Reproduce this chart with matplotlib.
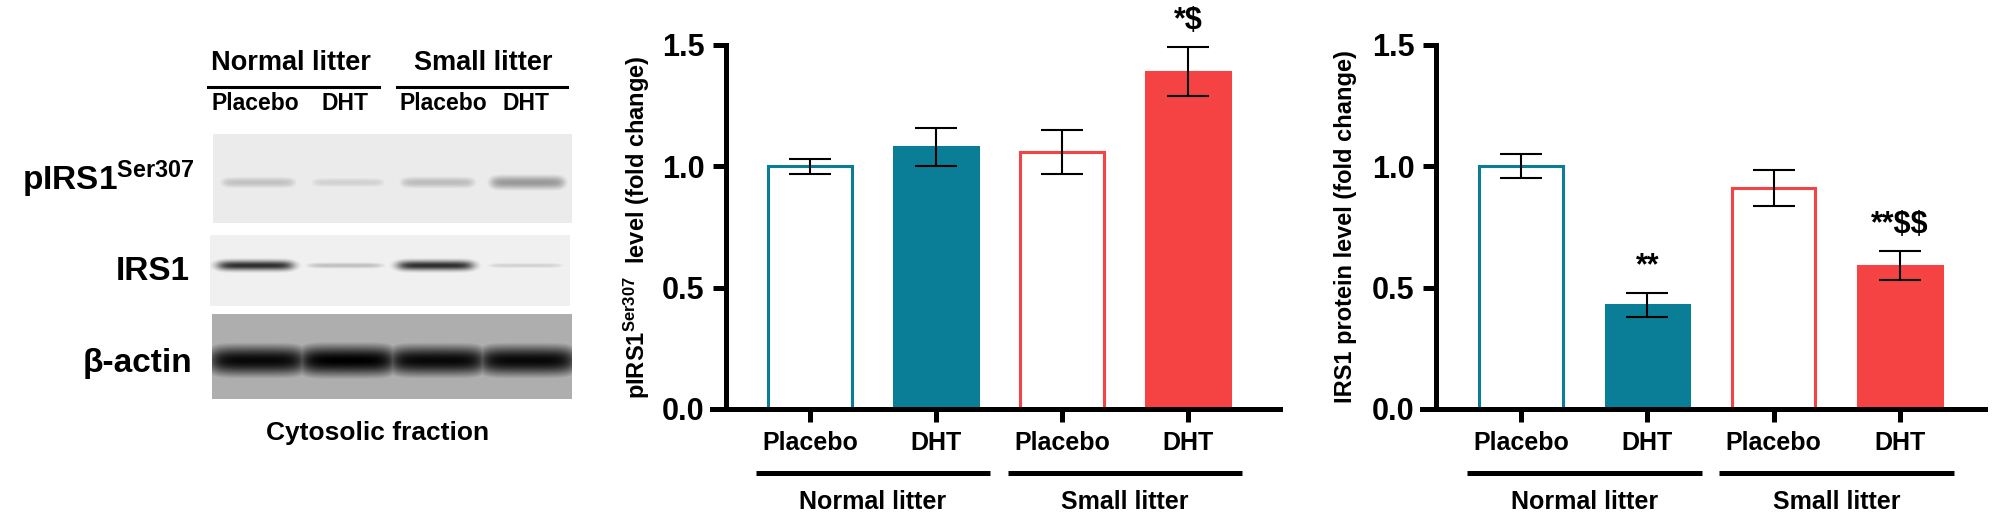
import numpy as np
import matplotlib
matplotlib.use("Agg")
import matplotlib.pyplot as plt
from matplotlib.transforms import blended_transform_factory

plt.rcParams['font.family'] = ['Liberation Sans', 'DejaVu Sans']
plt.rcParams['font.weight'] = 'bold'
plt.rcParams['axes.labelweight'] = 'bold'
plt.rcParams['mathtext.fontset'] = 'custom'
plt.rcParams['mathtext.rm'] = 'Liberation Sans:bold'
plt.rcParams['mathtext.it'] = 'Liberation Sans:bold'
plt.rcParams['mathtext.bf'] = 'Liberation Sans:bold'
plt.rcParams['mathtext.default'] = 'rm'

# ---- data ----
groups = ["Normal litter", "Small litter"]
treatments = ["Placebo", "DHT", "Placebo", "DHT"]

pirs1_mean = [1.00, 1.08, 1.06, 1.39]
pirs1_sem = [0.03, 0.08, 0.09, 0.10]
pirs1_marks = ["", "", "", "*$"]

irs1_mean = [1.00, 0.43, 0.91, 0.59]
irs1_sem = [0.05, 0.05, 0.075, 0.06]
irs1_marks = ["", "**", "", "**$$"]

y_ticks = [0.0, 0.5, 1.0, 1.5]

# blot band darkness per lane (0 white .. 1 black)
pirs1_band = [0.24, 0.18, 0.26, 0.40]
irs1_band = [0.82, 0.25, 0.82, 0.18]
actin_band = [0.97, 1.0, 0.97, 0.97]

teal = '#0A7E96'
red = '#F54242'
bar_edge = [teal, teal, red, red]
bar_face = ['white', teal, 'white', red]

W, H = 1993, 517
fig = plt.figure(figsize=(W / 100, H / 100), dpi=100)

# ---- blot panel (pixel coords) ----
ax0 = fig.add_axes([0, 0, 600 / W, 1])
ax0.set_xlim(0, 600)
ax0.set_ylim(H, 0)
ax0.axis('off')


def blot(band, x0, x1, y0, y1, bg, band_y, band_h, soft=3.0, half=0.41):
    w = int(x1 - x0)
    h = int(y1 - y0)
    xs = np.arange(w)
    ys = np.arange(h)
    lane_w = w / len(band)
    img = np.full((h, w), bg)
    for i, d in enumerate(band):
        cx = (i + 0.5) * lane_w
        px = 1 / (1 + np.exp((np.abs(xs - cx) - half * lane_w) / soft))
        bh = band_h * (0.6 + d)
        py = np.exp(-((ys - band_y) / bh) ** 2)
        img = np.maximum(img, d * np.outer(py, px))
    ax0.imshow(img, cmap='gray_r', vmin=0, vmax=1, extent=(x0, x1, y1, y0),
               interpolation='bilinear', aspect='auto')


blot(pirs1_band, 213, 572, 134, 223, 0.08, 48, 7)
blot(irs1_band, 210, 570, 235, 306, 0.06, 30, 3.5, soft=4)
blot(actin_band, 212, 572, 314, 399, 0.32, 46, 11, soft=6, half=0.56)

ax0.set_xlim(0, 600)
ax0.set_ylim(H, 0)

ax0.text(195, 190, r"pIRS1$^{Ser307}$", ha='right', va='baseline', fontsize=24)
ax0.text(190, 280, "IRS1", ha='right', va='baseline', fontsize=24)
ax0.text(192, 372, "β-actin", ha='right', va='baseline', fontsize=24)

ax0.text(291, 63, groups[0], ha='center', va='center', fontsize=19.5)
ax0.text(483, 63, groups[1], ha='center', va='center', fontsize=19.5)
ax0.plot([208, 379], [87, 87], color='black', lw=2.2)
ax0.plot([397, 567], [87, 87], color='black', lw=2.2)
for xc, t in zip([255, 345, 443, 526], treatments):
    ax0.text(xc, 103, t, ha='center', va='center', fontsize=16.5)
ax0.text(378, 433, "Cytosolic fraction", ha='center', va='center', fontsize=19)


# ---- bar charts ----
def bar_panel(left_px, right_px, x0_px, spacing, means, sems, marks, ylabel, lab_x_px):
    top_px, bot_px = 45, 409
    ax = fig.add_axes([left_px / W, 1 - bot_px / H, (right_px - left_px) / W, (bot_px - top_px) / H])
    xl = (left_px - x0_px) / spacing
    xr = (right_px - x0_px) / spacing
    ax.set_xlim(xl, xr)
    ax.set_ylim(0, 1.5)
    x = np.arange(len(means))
    ax.bar(x, means, width=0.66, color=bar_face, edgecolor=bar_edge, linewidth=2.2, zorder=2)
    ax.errorbar(x, means, yerr=sems, fmt='none', ecolor='black', elinewidth=1.5,
                capsize=15, capthick=1.5, zorder=3)
    for xi, m, s, mk in zip(x, means, sems, marks):
        if mk:
            ax.text(xi, m + s + 0.11, mk, ha='center', va='center', fontsize=22,
                    parse_math=False, clip_on=False)
    for side in ['top', 'right']:
        ax.spines[side].set_visible(False)
    ax.spines['left'].set_position(('data', xl + 14 / spacing))
    ax.spines['left'].set_linewidth(3.6)
    ax.spines['bottom'].set_linewidth(3.6)
    ax.spines['left'].set_bounds(0, 1.5)
    ax.set_yticks(y_ticks)
    ax.set_yticklabels([f"{v:.1f}" for v in y_ticks])
    ax.set_xticks(x)
    ax.set_xticklabels(treatments, fontsize=18)
    ax.tick_params(axis='both', length=9.5, width=3.6)
    ax.tick_params(axis='x', pad=6)
    ax.tick_params(axis='y', pad=6)
    for lb in ax.get_yticklabels():
        lb.set_fontfamily(['Liberation Sans Narrow', 'Liberation Sans'])
        lb.set_fontsize(22)
        lb.set_fontweight('bold')
    ax.set_ylabel(ylabel, fontsize=17, fontweight='bold')
    ax.yaxis.set_label_coords((lab_x_px - left_px) / (right_px - left_px), 0.5)
    tr = blended_transform_factory(ax.transData, ax.transAxes)
    for gi, g in enumerate(groups):
        c = 2 * gi + 0.5
        ax.plot([c - 0.93, c + 0.93], [-0.176, -0.176], color='black', lw=3.6,
                transform=tr, clip_on=False, solid_capstyle='butt')
        ax.text(c, -0.255, g, ha='center', va='center', fontsize=18, transform=tr)
    return ax


bar_panel(712, 1280, 810, 126, pirs1_mean, pirs1_sem, pirs1_marks,
          r"pIRS1$^{Ser307}$  level (fold change)", 652)
bar_panel(1422, 1985, 1521, 126.3, irs1_mean, irs1_sem, irs1_marks,
          "IRS1 protein level (fold change)", 1357)

fig.savefig("out.png", dpi=100)
